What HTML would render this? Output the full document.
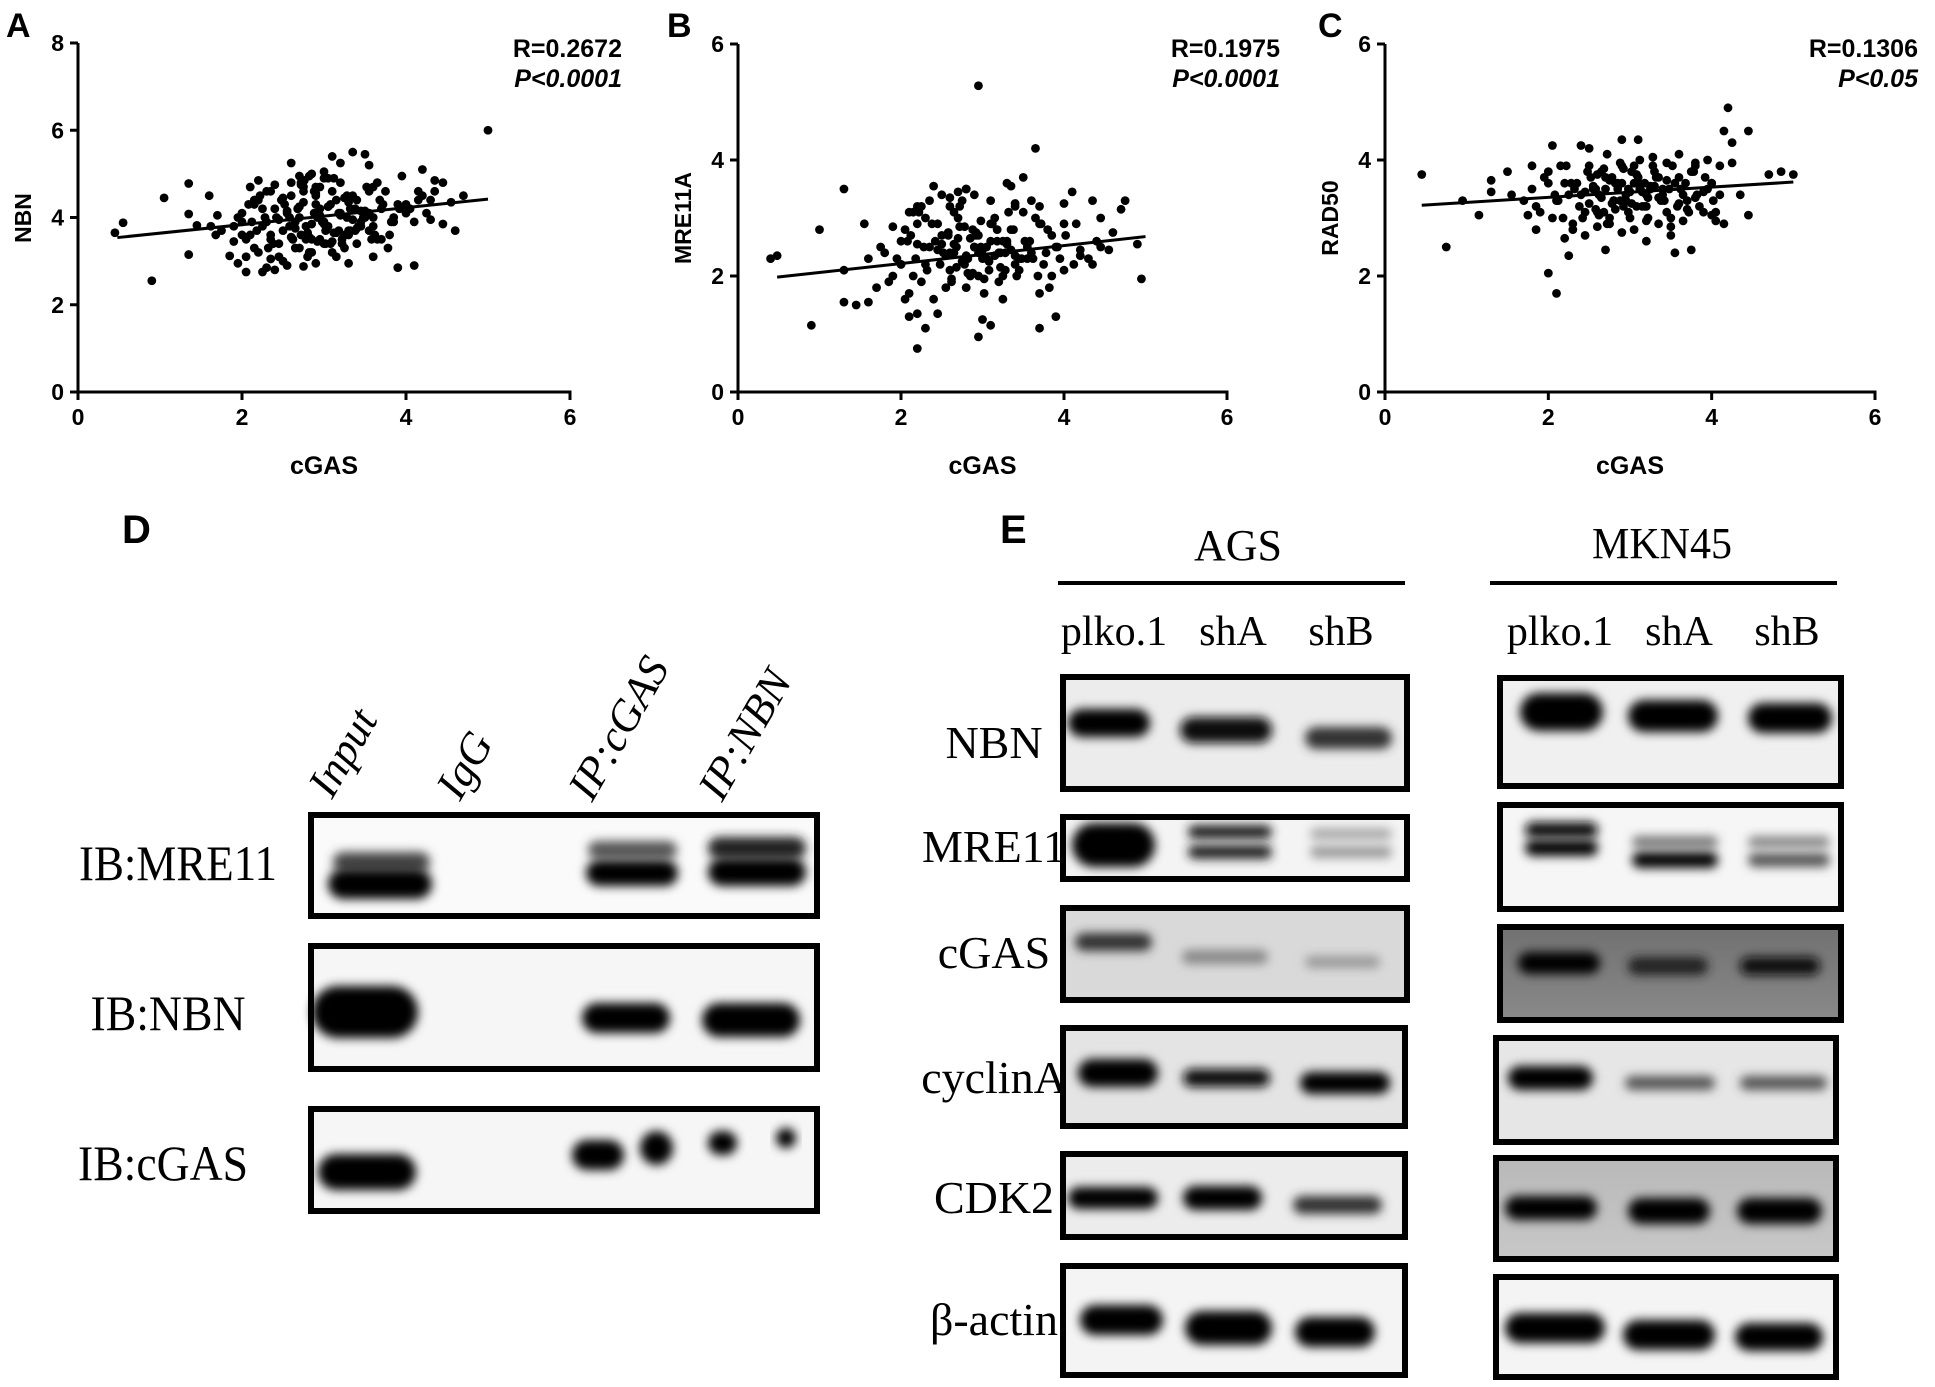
<!DOCTYPE html>
<html><head><meta charset="utf-8">
<style>
html,body{margin:0;padding:0;background:#fff;}
svg{display:block;}
.sans{font-family:"Liberation Sans",sans-serif;}
.serif{font-family:"Liberation Serif",serif;}
</style></head>
<body>
<svg id="fig" width="1935" height="1387" viewBox="0 0 1935 1387" xmlns="http://www.w3.org/2000/svg">
<defs>
<filter id="blur" x="-30%" y="-80%" width="160%" height="260%"><feGaussianBlur stdDeviation="5"/></filter>
<linearGradient id="mknCgas" x1="0" y1="0" x2="0" y2="1"><stop offset="0" stop-color="#707070"/><stop offset="1" stop-color="#8a8a8a"/></linearGradient>
<linearGradient id="mknCdk" x1="0" y1="0" x2="0" y2="1"><stop offset="0" stop-color="#b8b8b8"/><stop offset="1" stop-color="#c8c8c8"/></linearGradient>
</defs>
<g id="scatters"></g>
<g id="blots"></g>
</svg>
<script>
// ---------- Scatter data ----------
const ticksX = [0, 2, 4, 6];
const ticksYA = [0, 2, 4, 6, 8];
const ticksYB = [0, 2, 4, 6];
const ticksYC = [0, 2, 4, 6];
const panelLetters = ["A", "B", "C"];
const yTitles = ["NBN", "MRE11A", "RAD50"];
const rValues = ["R=0.2672", "R=0.1975", "R=0.1306"];
const pValues = ["P<0.0001", "P<0.0001", "P<0.05"];
const fitA = [[0.48, 3.54], [5.0, 4.42]];
const fitB = [[0.48, 1.98], [5.0, 2.68]];
const fitC = [[0.45, 3.22], [5.0, 3.62]];

const xA = [0.45,0.55,0.9,1.05,1.35,1.35,1.35,1.45,1.6,1.62,1.7,1.68,1.75,1.85,1.9,1.95,2.05,2.0,2.05,2.1,2.2,2.15,2.25,2.3,2.35,2.4,2.45,2.3,2.4,2.55,2.6,2.7,2.75,2.85,2.9,3.0,3.1,3.2,3.35,3.5,3.55,3.3,3.6,3.9,4.1,3.95,4.2,4.35,4.45,4.7,4.6,5.0,4.45,4.3,4.55,4.15,4.1,
1.9,2.0,2.1,2.2,2.3,2.4,2.5,2.6,2.7,2.8,2.9,3.0,3.1,3.2,3.3,3.4,3.5,3.6,3.7,3.8,3.9,4.0,
1.95,2.05,2.15,2.25,2.35,2.45,2.55,2.65,2.75,2.85,2.95,3.05,3.15,3.25,3.35,3.45,3.55,3.65,3.75,3.85,
2.0,2.12,2.22,2.32,2.42,2.52,2.62,2.72,2.82,2.92,3.02,3.12,3.22,3.32,3.42,3.52,3.62,3.72,3.82,3.92,
2.08,2.18,2.28,2.38,2.48,2.58,2.68,2.78,2.88,2.98,3.08,3.18,3.28,3.38,3.48,3.58,3.68,3.78,
2.2,2.35,2.5,2.65,2.8,2.95,3.1,3.25,3.4,3.55,3.7,3.85,4.0,4.2,4.3,
2.6,2.75,2.9,3.05,3.2,2.7,2.85,3.0,3.15,3.3,3.45,3.6,
2.45,2.55,2.65,2.75,2.85,2.95,3.05,3.15,3.25,3.35,3.45,2.5,2.6,2.7,2.8,2.9,3.0,3.1,3.2,3.3,3.4,3.5,
2.58,2.68,2.78,2.88,2.98,3.08,3.18,3.28,3.38,2.62,2.72,2.82,2.92,3.02,3.12,3.22,3.32,
2.9,2.95,3.0,2.72,2.76,2.82,3.55,3.6,3.65,2.15,2.25,2.35,4.05,4.15,4.25,4.35];
const yA = [3.65,3.88,2.55,4.45,4.78,4.08,3.15,3.82,4.5,3.8,4.05,3.6,3.7,3.12,3.45,2.95,2.75,3.9,3.1,4.7,4.85,3.3,2.75,2.85,3.05,2.8,3.1,4.6,4.75,2.9,5.25,4.95,2.88,5.0,2.95,5.05,5.4,5.25,5.5,5.45,5.2,2.95,3.1,2.85,2.9,4.95,5.1,4.85,4.8,4.5,3.7,6.0,3.85,3.95,4.35,4.6,3.9,
3.8,4.1,3.6,4.4,3.9,4.2,3.7,4.5,4.0,3.6,4.3,3.9,4.6,4.1,3.7,4.4,4.0,3.8,4.2,3.6,4.3,4.1,
4.0,3.5,4.3,3.8,4.6,3.4,4.1,3.9,4.7,3.5,4.2,3.8,4.4,3.3,4.5,3.9,4.1,3.5,4.6,3.9,
3.6,3.9,4.5,3.3,4.0,4.3,3.5,4.8,3.2,4.0,3.7,4.9,3.4,4.2,3.8,4.7,3.6,4.3,3.9,4.2,
4.3,3.7,4.0,3.4,4.4,3.8,4.2,3.5,4.6,3.9,3.4,4.1,4.5,3.7,4.0,3.5,4.4,3.3,
3.2,3.6,3.0,3.3,3.1,3.5,3.2,3.6,3.4,3.7,3.5,4.0,4.3,4.5,4.4,
4.8,4.6,4.7,4.9,4.8,3.3,3.2,3.4,3.1,3.6,3.8,4.0,
3.95,4.15,3.75,4.35,3.85,4.05,4.25,3.65,4.45,3.95,4.15,4.45,3.55,4.25,3.65,4.55,3.85,3.45,4.05,4.35,3.75,4.15,
4.0,4.2,3.8,4.1,3.9,4.3,3.7,4.0,4.2,3.5,3.6,3.55,3.45,3.4,3.65,3.5,3.7,
4.5,4.7,4.9,4.75,4.85,4.95,4.6,4.7,4.8,4.4,4.2,3.5,4.2,4.4,4.1,4.6];

const xB = [0.4,0.48,0.9,1.0,1.3,1.3,1.3,1.45,1.6,1.55,1.6,1.9,2.0,2.05,2.1,2.2,2.2,2.3,2.45,2.4,2.6,2.95,2.95,3.3,3.35,3.5,3.0,3.1,3.65,3.7,4.0,4.1,4.35,4.6,4.55,4.95,3.9,4.2,4.75,4.7,4.45,4.4,4.35,4.9,
1.7,1.8,1.9,2.0,2.1,2.2,2.3,2.4,2.5,2.6,2.7,2.8,2.9,3.0,3.1,3.2,3.3,3.4,3.5,3.6,3.7,3.8,3.9,4.0,
1.75,1.85,1.95,2.05,2.15,2.25,2.35,2.45,2.55,2.65,2.75,2.85,2.95,3.05,3.15,3.25,3.35,3.45,3.55,3.65,3.75,3.85,3.95,
2.0,2.12,2.22,2.32,2.42,2.52,2.62,2.72,2.82,2.92,3.02,3.12,3.22,3.32,3.42,3.52,3.62,3.72,3.82,3.92,4.02,4.12,
2.08,2.18,2.28,2.38,2.48,2.58,2.68,2.78,2.88,2.98,3.08,3.18,3.28,3.38,3.48,3.58,3.68,3.78,
2.2,2.35,2.5,2.65,2.8,2.95,3.1,3.25,3.4,3.55,3.7,3.85,4.0,4.15,
2.7,2.8,2.9,3.6,3.7,3.4,2.15,2.3,2.6,
2.45,2.55,2.65,2.75,2.85,2.95,3.05,3.15,3.25,3.35,3.45,2.5,2.6,2.7,2.8,2.9,3.0,3.1,3.2,3.3,3.4,
2.58,2.68,2.78,2.88,2.98,3.08,3.18,3.28,2.62,2.72,2.82,2.92,3.02,3.12,3.22,2.1,2.2,2.25,4.2,4.3,4.45];
const yB = [2.3,2.35,1.15,2.8,3.5,2.1,1.55,1.5,1.55,2.9,2.3,2.85,2.2,1.6,1.3,1.35,0.75,1.1,1.35,3.55,3.35,5.28,0.95,3.6,3.55,3.7,1.25,1.15,4.2,1.1,3.25,3.45,3.3,2.75,2.45,1.95,1.3,2.35,3.3,3.15,3.0,2.6,2.2,2.55,
1.8,2.4,2.0,2.6,1.7,2.9,2.2,1.6,2.7,2.1,3.0,1.8,2.5,2.3,2.9,1.9,2.6,2.2,3.1,2.4,1.7,2.8,2.5,2.9,
2.5,1.9,2.3,2.8,2.0,3.2,2.5,2.9,1.8,2.4,3.3,2.0,2.7,2.3,3.0,1.6,2.8,2.1,2.5,3.0,2.2,2.7,2.3,
2.2,2.7,3.1,2.1,2.6,2.4,1.9,3.2,2.3,2.7,1.7,2.9,2.4,3.1,2.0,2.6,2.3,2.9,1.8,2.5,2.7,2.2,
2.6,2.3,2.5,2.9,2.2,2.7,2.5,2.2,2.8,2.5,2.1,2.6,2.4,2.8,2.3,2.6,2.0,2.4,
3.2,3.3,3.4,3.1,3.5,2.0,3.3,2.0,3.2,2.3,2.9,2.0,2.1,2.9,
3.45,3.5,3.4,3.3,3.2,3.25,3.1,3.0,3.2,
2.45,2.35,2.55,2.25,2.65,2.4,2.5,2.35,2.6,2.45,2.3,2.55,2.4,2.65,2.35,2.5,2.45,2.6,2.4,2.55,2.35,
2.75,2.15,2.85,2.05,2.95,2.25,2.8,2.1,1.95,2.85,2.05,2.75,1.95,2.9,2.15,3.1,2.55,1.9,2.45,2.3,2.5];

const xC = [0.45,0.75,0.95,1.3,1.3,1.55,1.5,1.8,1.7,1.75,1.85,2.0,2.05,2.1,2.25,2.2,2.4,2.5,2.7,2.9,3.1,3.2,3.45,3.6,3.5,3.75,3.55,4.2,4.15,4.25,4.45,4.35,4.45,4.7,4.85,5.0,4.0,1.15,
1.8,1.9,2.0,2.1,2.2,2.3,2.4,2.5,2.6,2.7,2.8,2.9,3.0,3.1,3.2,3.3,3.4,3.5,3.6,3.7,3.8,3.9,4.0,4.1,
1.85,1.95,2.05,2.15,2.25,2.35,2.45,2.55,2.65,2.75,2.85,2.95,3.05,3.15,3.25,3.35,3.45,3.55,3.65,3.75,3.85,3.95,4.05,
2.0,2.12,2.22,2.32,2.42,2.52,2.62,2.72,2.82,2.92,3.02,3.12,3.22,3.32,3.42,3.52,3.62,3.72,3.82,3.92,4.02,
2.08,2.18,2.28,2.38,2.48,2.58,2.68,2.78,2.88,2.98,3.08,3.18,3.28,3.38,3.48,3.58,3.68,3.78,
2.3,2.45,2.6,2.75,2.9,3.05,3.2,3.35,3.5,3.65,3.8,3.95,4.1,4.25,4.05,4.15,
2.45,2.55,2.65,2.75,2.85,2.95,3.05,3.15,3.25,3.35,3.45,2.5,2.6,2.7,2.8,2.9,3.0,3.1,3.2,3.3,3.4,
2.58,2.68,2.78,2.88,2.98,3.08,3.18,3.28,2.62,2.72,2.82,2.92,3.02,3.12,3.22,3.6,3.7,3.8,3.9,4.0];
const yC = [3.75,2.5,3.3,3.65,3.45,3.4,3.8,3.9,3.3,3.05,2.8,2.05,4.25,1.7,2.35,2.65,4.25,4.2,2.45,4.35,4.35,2.6,3.95,4.1,2.7,2.45,2.4,4.9,4.5,4.3,4.5,3.4,3.05,3.75,3.8,3.75,3.05,3.05,
3.5,3.1,3.8,3.3,3.6,2.9,3.4,3.9,3.1,3.7,3.3,3.9,3.0,3.6,3.2,3.8,3.4,3.0,3.7,3.3,3.9,3.1,3.6,3.4,
3.2,3.7,3.0,3.9,3.4,3.6,3.1,3.5,3.8,3.0,3.6,3.3,3.9,3.2,3.5,3.7,3.1,3.6,3.4,3.8,3.2,3.5,3.1,
3.6,3.3,3.9,3.5,3.0,3.7,3.4,2.9,3.6,3.2,3.8,3.5,3.0,3.7,3.3,3.9,3.5,3.1,3.4,3.7,3.3,
3.4,3.0,3.6,3.2,3.8,3.5,3.1,3.7,3.3,3.5,3.2,3.6,3.9,3.3,3.5,3.2,3.6,3.8,
2.8,2.7,2.85,2.9,2.75,2.8,2.95,2.9,2.85,2.95,3.95,4.0,3.9,3.95,2.95,2.9,
3.45,3.55,3.35,3.65,3.5,3.4,3.6,3.45,3.55,3.35,3.65,3.25,3.75,3.5,3.3,3.6,3.45,3.7,3.4,3.55,3.5,
3.15,3.85,3.25,3.95,3.1,3.75,3.2,4.05,3.05,4.1,3.15,3.85,3.25,4.0,3.35,3.25,3.15,3.35,3.45,3.6];

const NS = "http://www.w3.org/2000/svg";
function mk(tag, attrs, parent) {
  const e = document.createElementNS(NS, tag);
  for (const k in attrs) e.setAttribute(k, attrs[k]);
  parent.appendChild(e);
  return e;
}

const panels = [
  {x0: 78, y0: 392, xEnd: 570, yTop: 43, xMax: 6, yMax: 8, ticksY: ticksYA, xs: xA, ys: yA, fit: fitA, rX: 622, labelX: 6},
  {x0: 738, y0: 392, xEnd: 1227, yTop: 44, xMax: 6, yMax: 6, ticksY: ticksYB, xs: xB, ys: yB, fit: fitB, rX: 1280, labelX: 667},
  {x0: 1385, y0: 392, xEnd: 1875, yTop: 44, xMax: 6, yMax: 6, ticksY: ticksYC, xs: xC, ys: yC, fit: fitC, rX: 1918, labelX: 1318}
];
const sc = document.getElementById('scatters');
panels.forEach((p, i) => {
  const g = mk('g', {}, sc);
  
  
  const sx = v => p.x0 + v / p.xMax * (p.xEnd - p.x0);
  const sy = v => p.y0 - v / p.yMax * (p.y0 - p.yTop);
  const lab = mk('text', {x: p.labelX, y: 37, 'font-size': 34, 'font-weight': 'bold', class: 'sans'}, g);
  lab.textContent = panelLetters[i];
  
  
  const yax = mk('line', {x1: p.x0, y1: p.y0, x2: p.x0, y2: p.yTop, stroke: '#000', 'stroke-width': 3}, g);
  
  
  const xax = mk('line', {x1: p.x0 - 1.5, y1: p.y0, x2: p.xEnd + 1.5, y2: p.y0, stroke: '#000', 'stroke-width': 3}, g);
  
  
  ticksX.forEach(t => {
    const tl = mk('line', {x1: sx(t), y1: p.y0, x2: sx(t), y2: p.y0 + 8, stroke: '#000', 'stroke-width': 3}, g);
    
    
    const tt = mk('text', {x: sx(t), y: p.y0 + 33, 'font-size': 23, 'font-weight': 'bold', 'text-anchor': 'middle', class: 'sans'}, g);
    tt.textContent = t;
    
    
  });
  p.ticksY.forEach(t => {
    const tl = mk('line', {x1: p.x0 - 8, y1: sy(t), x2: p.x0, y2: sy(t), stroke: '#000', 'stroke-width': 3}, g);
    
    
    const tt = mk('text', {x: p.x0 - 14, y: sy(t) + 8, 'font-size': 23, 'font-weight': 'bold', 'text-anchor': 'end', class: 'sans'}, g);
    tt.textContent = t;
    
    
  });
  const xt = mk('text', {x: (p.x0 + p.xEnd) / 2, y: 474, 'font-size': 25, 'font-weight': 'bold', 'text-anchor': 'middle', class: 'sans'}, g);
  xt.textContent = 'cGAS';
  
  
  const yt = mk('text', {x: 0, y: 0, 'font-size': 23, 'font-weight': 'bold', 'text-anchor': 'middle', class: 'sans', transform: 'translate(' + (p.x0 - 47) + ',218) rotate(-90)'}, g);
  yt.textContent = yTitles[i];
  
  
  const rt = mk('text', {x: p.rX, y: 57, 'font-size': 25, 'font-weight': 'bold', 'text-anchor': 'end', class: 'sans'}, g);
  rt.textContent = rValues[i];
  
  
  const pt = mk('text', {x: p.rX, y: 87, 'font-size': 25, 'font-weight': 'bold', 'font-style': 'italic', 'text-anchor': 'end', class: 'sans'}, g);
  pt.textContent = pValues[i];
  
  
  const dg = mk('g', {}, g);
  
  
  p.xs.forEach((xv, k) => {
    const c = mk('circle', {cx: sx(xv), cy: sy(p.ys[k]), r: 4.4, fill: '#000'}, dg);
    
    
  });
  const fl = mk('line', {x1: sx(p.fit[0][0]), y1: sy(p.fit[0][1]), x2: sx(p.fit[1][0]), y2: sy(p.fit[1][1]), stroke: '#000', 'stroke-width': 3}, g);
  
  
});

// ---------- Blots ----------
const bl = document.getElementById('blots');
function text(str, x, y, size, anchor, extra, name, parent) {
  const t = mk('text', Object.assign({x: x, y: y, 'font-size': size, 'text-anchor': anchor}, extra || {}), parent || bl);
  t.textContent = str;
  
  
  return t;
}
function box(x1, y1, x2, y2, bg, name) {
  const g = mk('g', {}, bl);
  
  
  mk('rect', {x: x1, y: y1, width: x2 - x1, height: y2 - y1, fill: bg}, g);
  return g;
}
function band(g, x1, x2, cy, h, col) {
  const b = mk('rect', {x: x1, y: cy - h / 2, width: x2 - x1, height: h, rx: h / 2, ry: h / 2, fill: col, filter: 'url(#blur)'}, g);
  
  
}
function frame(g, x1, y1, x2, y2) {
  mk('rect', {x: x1 + 3, y: y1 + 3, width: x2 - x1 - 6, height: y2 - y1 - 6, fill: 'none', stroke: '#000', 'stroke-width': 6}, g);
}

text('D', 122, 543, 40, 'start', {'font-weight': 'bold', class: 'sans'}, 'panel-label');
text('E', 1000, 543, 40, 'start', {'font-weight': 'bold', class: 'sans'}, 'panel-label');

// Panel D
const laneD = [['Input', 332, 800], ['IgG', 460, 802], ['IP:cGAS', 592, 803], ['IP:NBN', 722, 803]];
laneD.forEach(l => text(l[0], 0, 0, 44, 'start', {class: 'serif', 'font-style': 'italic', transform: 'translate(' + l[1] + ',' + l[2] + ') rotate(-60)'}, 'lane-label'));
text('IB:MRE11', 178, 880, 50, 'middle', {class: 'serif', textLength: 198, lengthAdjust: 'spacingAndGlyphs'}, 'row-label');
text('IB:NBN', 168, 1030, 50, 'middle', {class: 'serif', textLength: 155, lengthAdjust: 'spacingAndGlyphs'}, 'row-label');
text('IB:cGAS', 163, 1180, 50, 'middle', {class: 'serif', textLength: 170, lengthAdjust: 'spacingAndGlyphs'}, 'row-label');

let g = box(308, 812, 820, 919, '#fafafa', 'blot-d-mre11');
band(g, 333, 430, 862, 20, '#444'); band(g, 328, 432, 884, 30, '#000');
band(g, 588, 677, 850, 18, '#555'); band(g, 586, 678, 873, 26, '#000');
band(g, 708, 806, 848, 22, '#222'); band(g, 708, 806, 872, 28, '#000');
frame(g, 308, 812, 820, 919);
g = box(308, 943, 820, 1072, '#f6f6f6', 'blot-d-nbn');
band(g, 312, 418, 1012, 52, '#000');
band(g, 582, 670, 1018, 30, '#000');
band(g, 702, 800, 1020, 34, '#000');
frame(g, 308, 943, 820, 1072);
g = box(308, 1106, 820, 1214, '#f6f6f6', 'blot-d-cgas');
band(g, 318, 416, 1172, 36, '#000');
band(g, 572, 624, 1155, 30, '#000');
band(g, 640, 673, 1148, 34, '#000');
band(g, 708, 737, 1143, 24, '#000');
band(g, 776, 796, 1138, 20, '#000');
frame(g, 308, 1106, 820, 1214);

// Panel E
text('AGS', 1238, 560, 44, 'middle', {class: 'serif'}, 'cell-line-label');
text('MKN45', 1662, 558, 44, 'middle', {class: 'serif', textLength: 140, lengthAdjust: 'spacingAndGlyphs'}, 'cell-line-label');
let ln = mk('line', {x1: 1058, y1: 583, x2: 1405, y2: 583, stroke: '#000', 'stroke-width': 4}, bl);
 
ln = mk('line', {x1: 1490, y1: 583, x2: 1837, y2: 583, stroke: '#000', 'stroke-width': 4}, bl);
 
[['plko.1', 1114], ['shA', 1233], ['shB', 1341], ['plko.1', 1560], ['shA', 1679], ['shB', 1787]].forEach(l =>
  text(l[0], l[1], 645, 42, 'middle', {class: 'serif'}, 'lane-label'));
[['NBN', 994, 758], ['MRE11', 994, 862], ['cGAS', 994, 968], ['cyclinA', 994, 1093], ['CDK2', 994, 1213], ['β-actin', 994, 1335]].forEach(l =>
  text(l[0], l[1], l[2], 46, 'middle', {class: 'serif'}, 'row-label'));

// AGS blots
g = box(1060, 674, 1410, 792, '#ececec', 'blot-ags-nbn');
band(g, 1068, 1150, 723, 28, '#000'); band(g, 1180, 1272, 730, 26, '#111'); band(g, 1305, 1392, 738, 22, '#333');
frame(g, 1060, 674, 1410, 792);
g = box(1060, 814, 1410, 882, '#f4f4f4', 'blot-ags-mre11');
band(g, 1072, 1155, 845, 44, '#000'); band(g, 1188, 1272, 832, 14, '#222'); band(g, 1188, 1272, 852, 14, '#222');
band(g, 1310, 1392, 834, 12, '#aaa'); band(g, 1310, 1392, 852, 12, '#999');
frame(g, 1060, 814, 1410, 882);
g = box(1060, 905, 1410, 1003, '#d9d9d9', 'blot-ags-cgas');
band(g, 1075, 1152, 942, 18, '#333'); band(g, 1182, 1268, 957, 14, '#888'); band(g, 1305, 1380, 962, 12, '#999');
frame(g, 1060, 905, 1410, 1003);
g = box(1060, 1025, 1408, 1129, '#e4e4e4', 'blot-ags-cyclina');
band(g, 1078, 1158, 1073, 28, '#000'); band(g, 1183, 1270, 1078, 18, '#111'); band(g, 1300, 1390, 1083, 22, '#000');
frame(g, 1060, 1025, 1408, 1129);
g = box(1060, 1151, 1408, 1240, '#ececec', 'blot-ags-cdk2');
band(g, 1068, 1158, 1198, 22, '#000'); band(g, 1183, 1262, 1198, 24, '#000'); band(g, 1293, 1382, 1205, 18, '#333');
frame(g, 1060, 1151, 1408, 1240);
g = box(1060, 1263, 1408, 1378, '#f4f4f4', 'blot-ags-actin');
band(g, 1080, 1163, 1320, 30, '#000'); band(g, 1185, 1272, 1328, 34, '#000'); band(g, 1295, 1375, 1332, 30, '#000');
frame(g, 1060, 1263, 1408, 1378);

// MKN45 blots
g = box(1497, 675, 1844, 789, '#f0f0f0', 'blot-mkn-nbn');
band(g, 1520, 1603, 712, 38, '#000'); band(g, 1628, 1718, 716, 32, '#000'); band(g, 1748, 1832, 718, 30, '#000');
frame(g, 1497, 675, 1844, 789);
g = box(1497, 802, 1844, 912, '#f6f6f6', 'blot-mkn-mre11');
band(g, 1525, 1598, 830, 16, '#111'); band(g, 1525, 1598, 848, 16, '#000');
band(g, 1632, 1718, 842, 12, '#777'); band(g, 1632, 1718, 860, 16, '#000');
band(g, 1748, 1830, 842, 12, '#888'); band(g, 1748, 1830, 860, 14, '#555');
frame(g, 1497, 802, 1844, 912);
g = box(1497, 924, 1844, 1023, 'url(#mknCgas)', 'blot-mkn-cgas');
band(g, 1518, 1600, 963, 22, '#000'); band(g, 1628, 1708, 966, 18, '#222'); band(g, 1740, 1820, 966, 18, '#111');
frame(g, 1497, 924, 1844, 1023);
g = box(1493, 1035, 1839, 1145, '#e6e6e6', 'blot-mkn-cyclina');
band(g, 1508, 1593, 1078, 24, '#000'); band(g, 1625, 1715, 1083, 14, '#555'); band(g, 1740, 1827, 1083, 14, '#555');
frame(g, 1493, 1035, 1839, 1145);
g = box(1493, 1155, 1839, 1262, 'url(#mknCdk)', 'blot-mkn-cdk2');
band(g, 1505, 1597, 1208, 24, '#000'); band(g, 1628, 1710, 1211, 26, '#000'); band(g, 1737, 1822, 1211, 26, '#000');
frame(g, 1493, 1155, 1839, 1262);
g = box(1493, 1274, 1839, 1380, '#f4f4f4', 'blot-mkn-actin');
band(g, 1505, 1605, 1328, 30, '#000'); band(g, 1623, 1715, 1335, 30, '#000'); band(g, 1735, 1823, 1337, 28, '#000');
frame(g, 1493, 1274, 1839, 1380);
</script>
</body></html>
